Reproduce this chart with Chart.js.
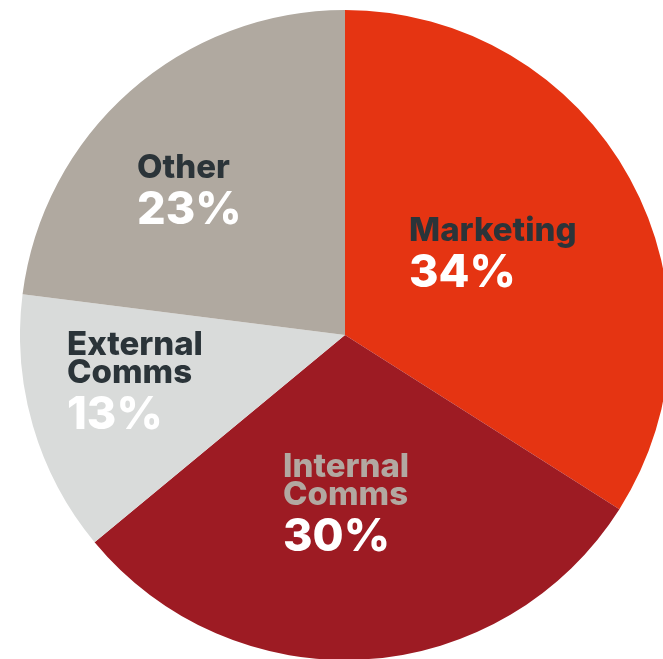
<!DOCTYPE html>
<html>
<head>
<meta charset="utf-8">
<script src="https://cdn.jsdelivr.net/npm/chart.js@4/dist/chart.umd.min.js"></script>
<style>
    html, body { margin: 0; padding: 0; background: #fff; overflow: hidden; }
    #wrap { position: relative; width: 663px; height: 659px; overflow: hidden; }
    #budget-pie { position: absolute; left: 20px; top: 10px; }
</style>
</head>
<body>
<div id="wrap">
    <canvas id="budget-pie" width="650" height="650"></canvas>
</div>
<script>
// share of budget by team
const teams = ['Marketing', 'Internal Comms', 'External Comms', 'Other'];
const shares = [34, 30, 13, 23];

const sliceColors = ['#E53412', '#9D1B23', '#D9DBDA', '#B0A9A0'];
const nameColors = ['#2B3439', '#B2A8A1', '#2B3439', '#2B3439'];

// where each label block sits, relative to the pie centre
const labelOffsets = [
    { dx: 64, dy: -94 },
    { dx: -62, dy: 142 },
    { dx: -278, dy: 20 },
    { dx: -208, dy: -157 }
];

const sliceLabels = {
    id: 'sliceLabels',
    afterDatasetsDraw(chart) {
        const ctx = chart.ctx;
        const meta = chart.getDatasetMeta(0);
        ctx.save();
        ctx.textAlign = 'left';
        ctx.textBaseline = 'alphabetic';
        meta.data.forEach((arc, i) => {
            const x = arc.x + labelOffsets[i].dx;
            let y = arc.y + labelOffsets[i].dy;
            const lines = teams[i].split(' ');
            ctx.fillStyle = nameColors[i];
            ctx.font = '800 33px Inter';
            lines.forEach((line, j) => {
                ctx.fillText(line, x, y + j * 28);
            });
            y += (lines.length - 1) * 28 + 46;
            ctx.fillStyle = '#FFFFFF';
            ctx.font = '800 45px Inter';
            ctx.fillText(shares[i] + '%', x, y);
        });
        ctx.restore();
    }
};

new Chart(document.getElementById('budget-pie'), {
    type: 'pie',
    data: {
        labels: teams,
        datasets: [{
            data: shares,
            backgroundColor: sliceColors,
            borderWidth: 0
        }]
    },
    options: {
        responsive: false,
        animation: false,
        layout: { padding: 0 },
        plugins: {
            legend: { display: false },
            tooltip: { enabled: false }
        }
    },
    plugins: [sliceLabels]
});
</script>
</body>
</html>
